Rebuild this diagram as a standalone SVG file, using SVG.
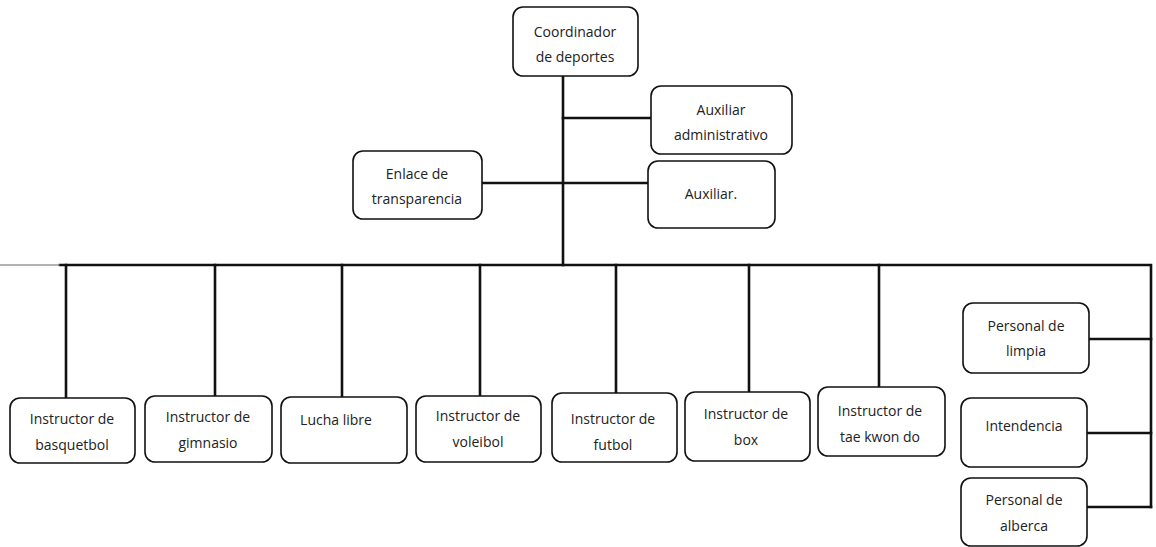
<svg xmlns="http://www.w3.org/2000/svg" width="1156" height="547" viewBox="0 0 1156 547">
<style>
.box{fill:#fff;stroke:#111;stroke-width:1.6}
.ln{stroke:#111;stroke-width:2.6;fill:none;stroke-linecap:square}
text{font-family:"Open Sans","Noto Sans",sans-serif;font-size:14px;fill:#222;text-anchor:middle}
</style>
<rect width="1156" height="547" fill="#fff"/>
<g id="connectors">
<path class="ln" d="M563,76 V265"/>
<path class="ln" d="M563,118 H651"/>
<path class="ln" d="M482,183 H648"/>
<path class="ln" d="M60,265 H1151 V507"/>
<path d="M0,265 H60" stroke="#666" stroke-width="1"/>
<path class="ln" d="M66,265 V398 M215,265 V395 M342,265 V397 M480,265 V395 M616,265 V393 M749,265 V392 M879,265 V387"/>
<path class="ln" d="M1089,339 H1151 M1087,433 H1151 M1087,507 H1151"/>
</g>
<g id="coordinador"><rect class="box" x="513" y="7" width="125" height="69" rx="10"/><text x="575" y="37">Coordinador</text><text x="575" y="62">de deportes</text></g>
<g id="aux-admin"><rect class="box" x="651" y="86" width="141" height="68" rx="10"/><text x="721" y="115">Auxiliar</text><text x="721" y="140">administrativo</text></g>
<g id="auxiliar"><rect class="box" x="648" y="161" width="127" height="67" rx="10"/><text x="711" y="199">Auxiliar.</text></g>
<g id="enlace"><rect class="box" x="353" y="151" width="129" height="68" rx="10"/><text x="417" y="179">Enlace de</text><text x="417" y="204">transparencia</text></g>
<g id="basquetbol"><rect class="box" x="10" y="398" width="125" height="65" rx="10"/><text x="72" y="424">Instructor de</text><text x="72" y="450">basquetbol</text></g>
<g id="gimnasio"><rect class="box" x="145" y="396" width="127" height="66" rx="10"/><text x="208" y="422">Instructor de</text><text x="208" y="448">gimnasio</text></g>
<g id="lucha"><rect class="box" x="281" y="397" width="126" height="66" rx="10"/><text x="336" y="425">Lucha libre</text></g>
<g id="voleibol"><rect class="box" x="416" y="396" width="125" height="66" rx="10"/><text x="478" y="421">Instructor de</text><text x="478" y="447">voleibol</text></g>
<g id="futbol"><rect class="box" x="552" y="393" width="125" height="69" rx="10"/><text x="613" y="424">Instructor de</text><text x="613" y="450">futbol</text></g>
<g id="box"><rect class="box" x="685" y="392" width="125" height="69" rx="10"/><text x="746" y="419">Instructor de</text><text x="746" y="445">box</text></g>
<g id="taekwondo"><rect class="box" x="818" y="387" width="127" height="69" rx="10"/><text x="880" y="416">Instructor de</text><text x="880" y="442">tae kwon do</text></g>
<g id="limpia"><rect class="box" x="963" y="303" width="126" height="70" rx="10"/><text x="1026" y="331">Personal de</text><text x="1026" y="356">limpia</text></g>
<g id="intendencia"><rect class="box" x="961" y="398" width="126" height="69" rx="10"/><text x="1024" y="431">Intendencia</text></g>
<g id="alberca"><rect class="box" x="961" y="478" width="126" height="68" rx="10"/><text x="1024" y="505">Personal de</text><text x="1024" y="531">alberca</text></g>
</svg>
